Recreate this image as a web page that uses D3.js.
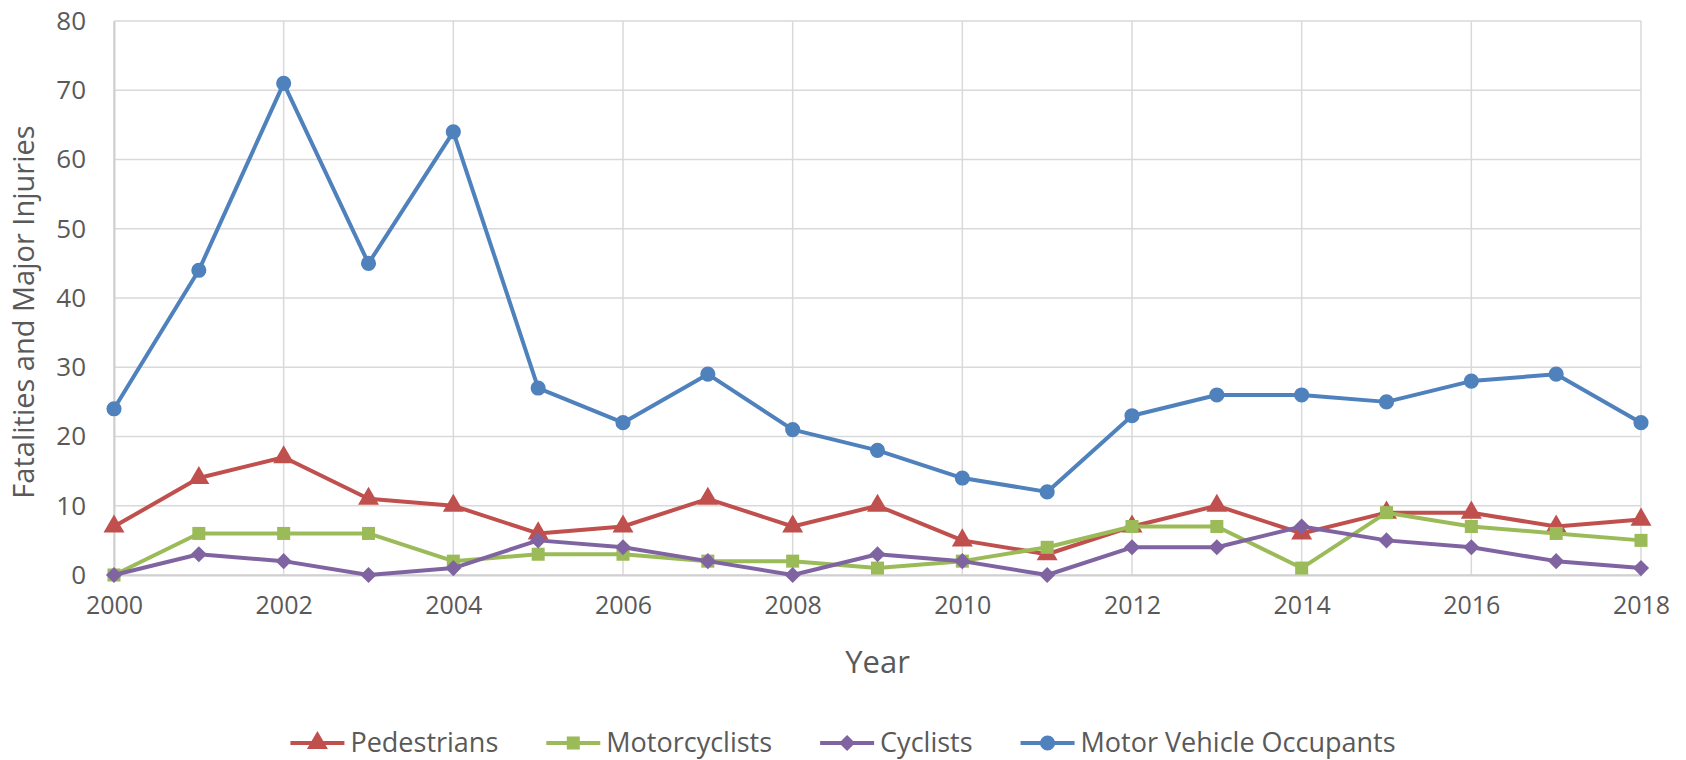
<!DOCTYPE html>
<html>
<head>
<meta charset="utf-8">
<script src="https://cdn.jsdelivr.net/npm/d3@7"></script>
<style>
  body { margin: 0; background: #fff; }
  text { font-family: "Open Sans", "Noto Sans", sans-serif; fill: #595959; }
</style>
</head>
<body>
<div id="chart"></div>
<script>
// données
const annees = d3.range(2000, 2019);
const pietons = [7, 14, 17, 11, 10, 6, 7, 11, 7, 10, 5, 3, 7, 10, 6, 9, 9, 7, 8];
const motards = [0, 6, 6, 6, 2, 3, 3, 2, 2, 1, 2, 4, 7, 7, 1, 9, 7, 6, 5];
const cyclistes = [0, 3, 2, 0, 1, 5, 4, 2, 0, 3, 2, 0, 4, 4, 7, 5, 4, 2, 1];
const occupants = [24, 44, 71, 45, 64, 27, 22, 29, 21, 18, 14, 12, 23, 26, 26, 25, 28, 29, 22];
const nomsSeries = ["Pedestrians", "Motorcyclists", "Cyclists", "Motor Vehicle Occupants"];
const couleurs = ["#C0504D", "#9BBB59", "#8064A2", "#4F81BD"];
const symboles = [d3.symbolTriangle, d3.symbolSquare, d3.symbolSquare, d3.symbolCircle];
const rotations = [0, 0, 45, 0];
const tailles = [190, 170, 130, 180];
const ticksX = d3.range(2000, 2019, 2);
const ticksY = d3.range(0, 81, 10);

const width = 1686;
const height = 760;
const margin = { top: 21, right: 45, bottom: 185, left: 114 };

const svg = d3.select("#chart")
    .append("svg")
    .attr("width", width)
    .attr("height", height);

const x = d3.scaleLinear()
    .domain([2000, 2018])
    .range([margin.left, width - margin.right]);

const y = d3.scaleLinear()
    .domain([0, 80])
    .range([height - margin.bottom, margin.top]);

// grille
svg.append("g")
    .selectAll("line")
    .data(ticksY)
    .enter().append("line")
    .attr("x1", x(2000)).attr("x2", x(2018))
    .attr("y1", d => y(d)).attr("y2", d => y(d))
    .attr("stroke", "#d9d9d9")
    .attr("stroke-width", 1.5);

svg.append("g")
    .selectAll("line")
    .data(ticksX)
    .enter().append("line")
    .attr("x1", d => x(d)).attr("x2", d => x(d))
    .attr("y1", y(0)).attr("y2", y(80))
    .attr("stroke", "#d9d9d9")
    .attr("stroke-width", 1.5);

// axes
const xAxis = d3.axisBottom(x).tickValues(ticksX).tickFormat(d3.format("d")).tickSize(0).tickPadding(21);
const yAxis = d3.axisLeft(y).tickValues(ticksY).tickSize(0).tickPadding(28);

const gx = svg.append("g")
    .attr("transform", `translate(0,${y(0)})`)
    .call(xAxis);
gx.select(".domain").attr("stroke", "#d0d0d0").attr("stroke-width", 2);
gx.selectAll("text").style("font-size", "25px").attr("fill", "#595959");

const gy = svg.append("g")
    .attr("transform", `translate(${x(2000)},0)`)
    .call(yAxis);
gy.select(".domain").attr("stroke", "#d0d0d0").attr("stroke-width", 2);
gy.selectAll("text").style("font-size", "26px").attr("fill", "#595959");

// titres des axes
svg.append("text")
    .attr("x", (x(2000) + x(2018)) / 2)
    .attr("y", 673)
    .attr("text-anchor", "middle")
    .style("font-size", "31px")
    .text("Year");

svg.append("text")
    .attr("transform", "translate(34,312) rotate(-90)")
    .attr("text-anchor", "middle")
    .style("font-size", "29px")
    .text("Fatalities and Major Injuries");

// séries
const series = [pietons, motards, cyclistes, occupants];
const ligne = d3.line()
    .x((d, i) => x(annees[i]))
    .y(d => y(d));

series.forEach((valeurs, s) => {
    svg.append("path")
        .datum(valeurs)
        .attr("d", ligne)
        .attr("fill", "none")
        .attr("stroke", couleurs[s])
        .attr("stroke-width", 4)
        .attr("stroke-linejoin", "round");

    svg.append("g")
        .selectAll("path")
        .data(valeurs)
        .enter().append("path")
        .attr("d", d3.symbol().type(symboles[s]).size(tailles[s]))
        .attr("transform", (d, i) => `translate(${x(annees[i])},${y(d)}) rotate(${rotations[s]})`)
        .attr("fill", couleurs[s]);
});

// légende
const legende = svg.append("g");
const items = legende.selectAll("g")
    .data(nomsSeries)
    .enter().append("g");

items.append("line")
    .attr("x1", 0).attr("x2", 54)
    .attr("stroke", (d, i) => couleurs[i])
    .attr("stroke-width", 4);
items.append("path")
    .attr("d", (d, i) => d3.symbol().type(symboles[i]).size(tailles[i])())
    .attr("transform", (d, i) => `translate(27,0) rotate(${rotations[i]})`)
    .attr("fill", (d, i) => couleurs[i]);
items.append("text")
    .attr("x", 60)
    .attr("dy", "0.35em")
    .style("font-size", "27px")
    .text(d => d);

let pos = 0;
items.each(function () {
    const w = this.querySelector("text").getComputedTextLength();
    d3.select(this).attr("transform", `translate(${pos},0)`);
    pos += 60 + w + 48;
});
pos -= 48;
legende.attr("transform", `translate(${width / 2 - pos / 2},743)`);
</script>
</body>
</html>
